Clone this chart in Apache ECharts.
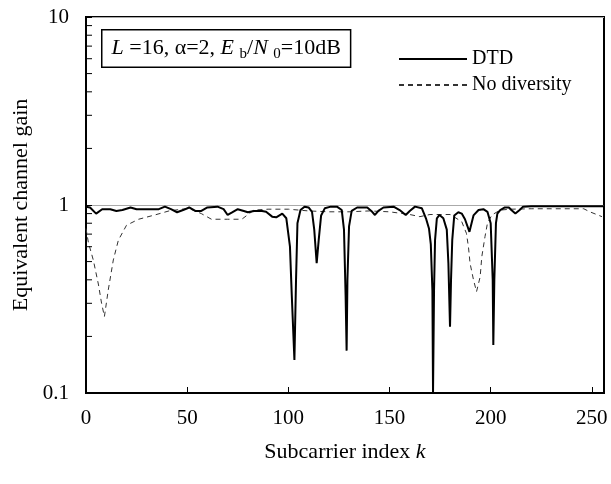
<!DOCTYPE html>
<html><head><meta charset="utf-8">
<script src="https://cdn.jsdelivr.net/npm/echarts@6/dist/echarts.min.js"></script>
<style>html,body{margin:0;padding:0;background:#fff}#c{width:611px;height:484px}</style>
</head><body><div id="c"></div>
<script>
const xTicks = [0, 50, 100, 150, 200, 250];
const yTicks = [0.1, 1, 10];
const yMinorTicks = [0.2,0.3,0.4,0.5,0.6,0.7,0.8,0.9,2,3,4,5,6,7,8,9];
const seriesNames = ['DTD', 'No diversity'];

const dtdK = [0,2,5,8,12,15,18,22,25,30,36,39,42,45,48,51,54,57,60,65,68,70,72,75,78,80,83,87,89,92,94,97,99,100.8,101.7,103,103.8,104.5,106,108,110,111.7,112.8,114,115,116.2,118,121,124,126.4,127.5,128.3,128.8,129.2,130,131.3,134,139,141,142.8,144.5,147,152,155,158,160,162.6,166,168,169.5,170.4,171.2,171.5,172,172.5,173.4,174.7,176.6,178.3,179.1,179.9,180.4,181,182,184,185.7,187.3,189.5,191.5,194,196.4,198.4,200,201,201.3,201.8,202.6,203.3,204.7,207,209,210.2,212.2,214.3,216,220,230,240,256];
const dtdV = [0.98,0.97,0.90,0.95,0.95,0.93,0.94,0.97,0.95,0.95,0.95,0.98,0.95,0.915,0.94,0.97,0.93,0.93,0.97,0.98,0.95,0.885,0.91,0.95,0.93,0.915,0.93,0.93,0.92,0.867,0.86,0.90,0.85,0.60,0.33,0.15,0.40,0.80,0.94,0.98,0.97,0.92,0.74,0.49,0.65,0.88,0.96,0.98,0.98,0.94,0.74,0.33,0.168,0.40,0.77,0.93,0.97,0.97,0.93,0.885,0.93,0.97,0.98,0.94,0.885,0.93,0.98,0.96,0.85,0.75,0.62,0.35,0.1,0.35,0.65,0.85,0.885,0.85,0.74,0.49,0.225,0.40,0.65,0.88,0.915,0.90,0.84,0.72,0.88,0.94,0.95,0.92,0.80,0.40,0.18,0.40,0.80,0.90,0.94,0.97,0.97,0.94,0.90,0.94,0.98,0.985,0.985,0.985,0.985];

const noDivK = [0,1.2,3.6,6.1,7.7,9.1,11,13.5,16,20,26,34,41,50.6,57,62,70,77,83,90,100,110,120,130,140,150,155,160,165,170,175,180,185.7,188,189,189.8,191.5,193,194.8,195.6,197.2,198.4,200.6,204.7,210,220,230,240,246,249,255];
const noDivV = [0.75,0.63,0.51,0.38,0.30,0.255,0.353,0.51,0.65,0.78,0.84,0.885,0.93,0.96,0.90,0.84,0.84,0.84,0.94,0.95,0.95,0.93,0.92,0.92,0.93,0.92,0.905,0.89,0.867,0.89,0.89,0.89,0.815,0.707,0.60,0.49,0.40,0.346,0.415,0.53,0.68,0.80,0.885,0.94,0.95,0.955,0.955,0.955,0.955,0.92,0.867];

const FONT = '"Liberation Serif", "Times New Roman", serif';
const chart = echarts.init(document.getElementById('c'), null, {renderer: 'canvas'});

const pair = (ks, vs) => ks.map((k, i) => [k, vs[i]]);

chart.setOption({
  animation: false,
  backgroundColor: '#fff',
  textStyle: {fontFamily: FONT, color: '#000'},
  grid: {left: 86, right: 7, top: 17, bottom: 91, show: true, borderColor: '#000', borderWidth: 2, backgroundColor: 'transparent'},
  legend: {
    orient: 'vertical', left: 398, top: 49, padding: 0, itemWidth: 68, itemHeight: 14, itemGap: 6,
    textStyle: {fontFamily: FONT, fontSize: 20, color: '#000'},
    itemStyle: {opacity: 0},
    data: seriesNames.map(n => ({name: n}))
  },
  xAxis: {
    type: 'value', min: 0, max: 256, interval: 50,
    name: 'Subcarrier index {i|k}', nameLocation: 'middle', nameGap: 48,
    nameTextStyle: {fontFamily: FONT, fontSize: 22, color: '#000', rich: {i: {fontFamily: FONT, fontSize: 22, fontStyle: 'italic'}}},
    axisLine: {lineStyle: {color: '#000', width: 2}},
    axisTick: {inside: true, length: 6, lineStyle: {color: '#000', width: 1}},
    axisLabel: {fontFamily: FONT, fontSize: 21, color: '#000', margin: 15, showMaxLabel: false,
      formatter: v => xTicks.includes(v) ? String(v) : ''},
    splitLine: {show: false}
  },
  yAxis: {
    type: 'log', logBase: 10, min: yTicks[0], max: yTicks[yTicks.length - 1],
    name: 'Equivalent channel gain', nameLocation: 'middle', nameGap: 54, nameRotate: 90,
    nameTextStyle: {fontFamily: FONT, fontSize: 22, color: '#000'},
    axisLine: {lineStyle: {color: '#000', width: 2}},
    axisTick: {inside: true, length: 6, lineStyle: {color: '#000', width: 1}},
    axisLabel: {fontFamily: FONT, fontSize: 21, color: '#000', margin: 17,
      formatter: v => String(+v.toPrecision(3))},
    splitLine: {show: true, lineStyle: {color: '#aaa', width: 1}}
  },
  graphic: [{
    type: 'text', left: 101, top: 29, z: 100,
    style: {
      text: '{i|L} =16, α=2, {i|E} {s|b}/{i|N} {s|0}=10dB',
      font: '22px ' + FONT, fill: '#000',
      backgroundColor: '#fff', borderColor: '#000', borderWidth: 1.5,
      padding: [5, 9, 5, 9], lineHeight: 26,
      rich: {
        i: {fontFamily: FONT, fontSize: 22, fontStyle: 'italic', lineHeight: 26},
        s: {fontFamily: FONT, fontSize: 15, verticalAlign: 'bottom', lineHeight: 26, padding: [6, 0, 0, 0]}
      }
    }
  }],
  series: [
    {
      name: seriesNames[0], type: 'line', data: pair(dtdK, dtdV), symbol: 'none', z: 3,
      lineStyle: {color: '#000', width: 2}, itemStyle: {color: '#000'}
    },
    {
      name: seriesNames[1], type: 'line', data: pair(noDivK, noDivV), symbol: 'none', z: 2,
      lineStyle: {color: '#333', width: 1, type: [5, 4]}, itemStyle: {color: '#333'}
    },
    {
      type: 'custom', silent: true, z: 5, legendHoverLink: false,
      data: yMinorTicks.map(v => [0, v]),
      renderItem: (params, api) => {
        const p = api.coord([api.value(0), api.value(1)]);
        return {type: 'line', shape: {x1: p[0], y1: p[1], x2: p[0] + 6, y2: p[1]}, style: {stroke: '#000', lineWidth: 1}};
      }
    }
  ]
});
</script></body></html>
